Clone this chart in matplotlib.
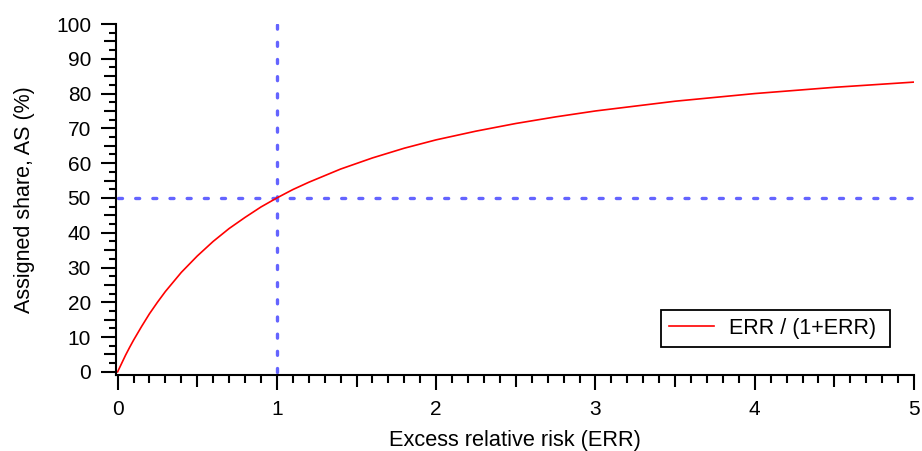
import matplotlib
matplotlib.use("Agg")
import matplotlib.pyplot as plt
from matplotlib.ticker import MultipleLocator, FixedLocator

plt.rcParams['font.family'] = ['Liberation Sans', 'DejaVu Sans']

# assigned share curve
err = [0, 0.025, 0.05, 0.075, 0.1, 0.15, 0.2, 0.25, 0.3, 0.4, 0.5, 0.6, 0.7, 0.8, 0.9, 1.0,
       1.1, 1.2, 1.4, 1.6, 1.8, 2.0, 2.25, 2.5, 2.75, 3.0, 3.5, 4.0, 4.5, 5.0]
share = [0, 2.4, 4.8, 7.0, 9.1, 13.0, 16.7, 20.0, 23.1, 28.6, 33.3, 37.5, 41.2, 44.4, 47.4, 50.0,
         52.4, 54.5, 58.3, 61.5, 64.3, 66.7, 69.2, 71.4, 73.3, 75.0, 77.8, 80.0, 81.8, 83.3]
series_label = "ERR / (1+ERR)"

# reference cross-hair
ref_err = 1.0
ref_share = 50

x_ticks = [0, 1, 2, 3, 4, 5]
y_ticks = [0, 10, 20, 30, 40, 50, 60, 70, 80, 90, 100]

fig = plt.figure(figsize=(9.22, 4.51), dpi=100)
ax = fig.add_axes([116 / 922, 76 / 451, 798 / 922, 351 / 451])

ax.hlines(ref_share, 0, 5, colors='#6464ff', linewidth=2.4,
          linestyles=(0, (1.2, 3.95)), capstyle='round')
ax.vlines(ref_err, 0, 100, colors='#6464ff', linewidth=2.4,
          linestyles=(0, (1.2, 3.95)), capstyle='round')
ax.plot(err, share, color='red', linewidth=1.2, label=series_label + " ")

ax.set_xlim(-0.01, 5)
ax.set_ylim(-0.9, 100)

for s in ['top', 'right']:
    ax.spines[s].set_visible(False)
for s in ['left', 'bottom']:
    ax.spines[s].set_linewidth(1.5)

fs = 15
ax.xaxis.set_major_locator(FixedLocator(x_ticks))
ax.xaxis.set_minor_locator(MultipleLocator(0.1))
ax.yaxis.set_major_locator(FixedLocator(y_ticks))
ax.yaxis.set_minor_locator(MultipleLocator(2.5))
ax.tick_params(which='major', length=11, width=1.5, labelsize=fs, pad=7)
ax.tick_params(which='minor', length=5.5, width=1.5)
ax.tick_params(axis='y', which='minor', length=5)

# medium ticks at the half steps
for t, loc in zip(ax.xaxis.get_minor_ticks(), ax.xaxis.get_minorticklocs()):
    if abs(loc * 10 % 10 - 5) < 1e-6:
        t.tick1line.set_markersize(8.5)
for t, loc in zip(ax.yaxis.get_minor_ticks(), ax.yaxis.get_minorticklocs()):
    if abs(loc % 10 - 5) < 1e-6:
        t.tick1line.set_markersize(8.5)

ax.set_xlabel("Excess relative risk (ERR)", fontsize=15.7, labelpad=8)
ax.set_ylabel("Assigned share, AS (%)", fontsize=15.5, labelpad=15)

leg = ax.legend(loc='lower right', bbox_to_anchor=(1.0, 0.012), fontsize=15.5,
                fancybox=False, framealpha=1, edgecolor='black',
                handlelength=2.05, handletextpad=0.72,
                borderaxespad=1.1, borderpad=0.38)
leg.get_frame().set_linewidth(1.3)

fig.savefig("out.png", dpi=100)
